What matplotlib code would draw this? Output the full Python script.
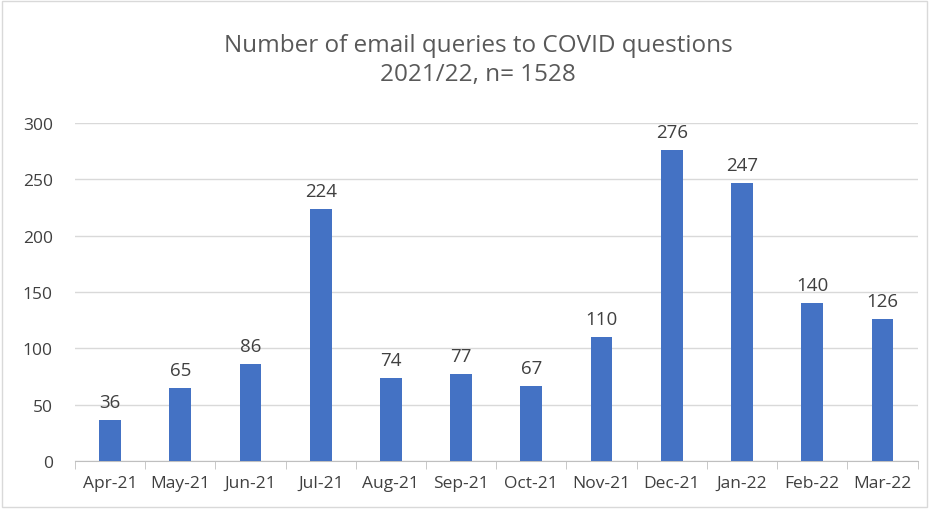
import matplotlib.pyplot as plt
from matplotlib.patches import Rectangle
import numpy as np

months = ["Apr-21", "May-21", "Jun-21", "Jul-21", "Aug-21", "Sep-21",
          "Oct-21", "Nov-21", "Dec-21", "Jan-22", "Feb-22", "Mar-22"]
queries = [36, 65, 86, 224, 74, 77, 67, 110, 276, 247, 140, 126]

plt.rcParams['font.family'] = ['Open Sans', 'DejaVu Sans']

fig = plt.figure(figsize=(9.3, 5.1), dpi=100)
ax = fig.add_axes([0.0806, 0.094, 0.906, 0.663])

x = np.arange(len(months))
bars = ax.bar(x, queries, width=0.31, color="#4472C4", zorder=3)

for xi, v in zip(x, queries):
    ax.text(xi, v + 8, str(v), ha="center", va="bottom", fontsize=13.5, color="#404040")

ax.set_xlim(-0.5, len(months) - 0.5)
ax.set_ylim(0, 300)
ax.set_yticks(range(0, 301, 50))
ax.yaxis.grid(True, color="#d9d9d9", linewidth=1, zorder=0)
ax.set_xticks(x)
ax.set_xticklabels(months)
ax.set_xticks(np.arange(-0.5, len(months), 1), minor=True)
ax.tick_params(axis="x", which="major", length=0, pad=10, labelsize=12.5, colors="#404040")
ax.tick_params(axis="x", which="minor", length=6, color="#bfbfbf")
ax.tick_params(axis="y", length=0, pad=16, labelsize=12.5, colors="#404040")

for s in ["top", "right", "left"]:
    ax.spines[s].set_visible(False)
ax.spines["bottom"].set_color("#bfbfbf")

fig.text(0.514, 0.882, "Number of email queries to COVID questions\n2021/22, n= 1528",
         ha="center", va="center", fontsize=17.5, color="#595959", linespacing=1.28)

fig.patches.append(Rectangle((0.002, 0.003), 0.995, 0.993, transform=fig.transFigure,
                             fill=False, edgecolor="#d9d9d9", linewidth=1))

fig.savefig("out.png", dpi=100)
